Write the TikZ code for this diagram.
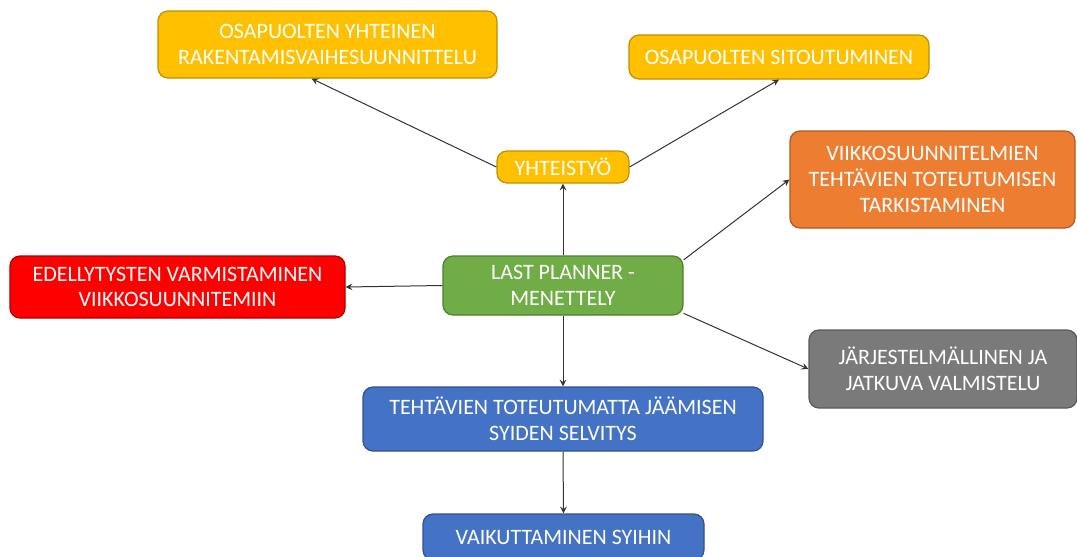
\documentclass[tikz,border=0pt]{standalone}
\usepackage{fontspec}
\setmainfont{Carlito}
\usepackage{xcolor}
\usepackage{tikz}
\usetikzlibrary{positioning, arrows}

\definecolor{gold}{HTML}{FFC000}
\definecolor{golddark}{HTML}{BF9000}
\definecolor{orangebox}{HTML}{ED7D31}
\definecolor{orangedark}{HTML}{AE5A21}
\definecolor{redbox}{HTML}{FF0000}
\definecolor{reddark}{HTML}{B00000}
\definecolor{greenbox}{HTML}{70AD47}
\definecolor{greendark}{HTML}{507E32}
\definecolor{greybox}{HTML}{7A7A7A}
\definecolor{greydark}{HTML}{595959}
\definecolor{bluebox}{HTML}{4472C4}
\definecolor{bluedark}{HTML}{2F528F}

\begin{document}
\begin{tikzpicture}[x=0.5pt, y=-0.5pt,
  box/.style={rectangle, rounded corners=5pt, draw, line width=0.6pt, align=center, text=white, inner sep=0pt, font=\fontsize{11}{12.8}\selectfont},
  yellowbox/.style={box, fill=gold, draw=golddark, text=white},
  arrow/.style={->,>=stealth, line width=0.5pt, draw=black!80}]

  \useasboundingbox (0,0) rectangle (1077,557);

  \node (yhteinen) [yellowbox, minimum width=169.5pt, minimum height=33.5pt] at (327.5,44.5) {OSAPUOLTEN YHTEINEN\\RAKENTAMISVAIHESUUNNITTELU};
  \node (sitoutuminen) [yellowbox, minimum width=150pt, minimum height=22pt] at (779,57) {OSAPUOLTEN SITOUTUMINEN};
  \node (yhteistyo) [yellowbox, minimum width=66pt, minimum height=16pt] at (563,167) {YHTEISTYÖ};
  \node (tarkistus) [box, fill=orangebox, draw=orangedark, minimum width=142.5pt, minimum height=48.5pt] at (932.5,179.5) {VIIKKOSUUNNITELMIEN\\TEHTÄVIEN TOTEUTUMISEN\\TARKISTAMINEN};
  \node (edellytys) [box, fill=redbox, draw=reddark, minimum width=167.5pt, minimum height=31pt] at (177.5,287) {EDELLYTYSTEN VARMISTAMINEN\\VIIKKOSUUNNITEMIIN};
  \node (lastplanner) [box, fill=greenbox, draw=greendark, minimum width=120pt, minimum height=29.5pt] at (563,285.5) {LAST PLANNER -\\MENETTELY};
  \node (valmistelu) [box, fill=greybox, draw=greydark, minimum width=134pt, minimum height=39pt] at (943,369) {JÄRJESTELMÄLLINEN JA\\JATKUVA VALMISTELU};
  \node (syyt) [box, fill=bluebox, draw=bluedark, minimum width=200pt, minimum height=32pt] at (563,419) {TEHTÄVIEN TOTEUTUMATTA JÄÄMISEN\\SYIDEN SELVITYS};
  \node (vaikuttaminen) [box, fill=bluebox, draw=bluedark, minimum width=140.5pt, minimum height=23pt] at (563.5,537) {VAIKUTTAMINEN SYIHIN};

  \draw [arrow] (yhteistyo.west) -- (yhteinen.245);
  \draw [arrow] (yhteistyo.east) -- (sitoutuminen.south);
  \draw [arrow] (lastplanner.north) -- (yhteistyo.south);
  \draw [arrow] (lastplanner.12) -- (tarkistus.west);
  \draw [arrow] (lastplanner.west) -- (edellytys.east);
  \draw [arrow] (lastplanner.-13) -- (valmistelu.west);
  \draw [arrow] (lastplanner.south) -- (syyt.north);
  \draw [arrow] (syyt.south) -- (vaikuttaminen.north);
\end{tikzpicture}
\end{document}
